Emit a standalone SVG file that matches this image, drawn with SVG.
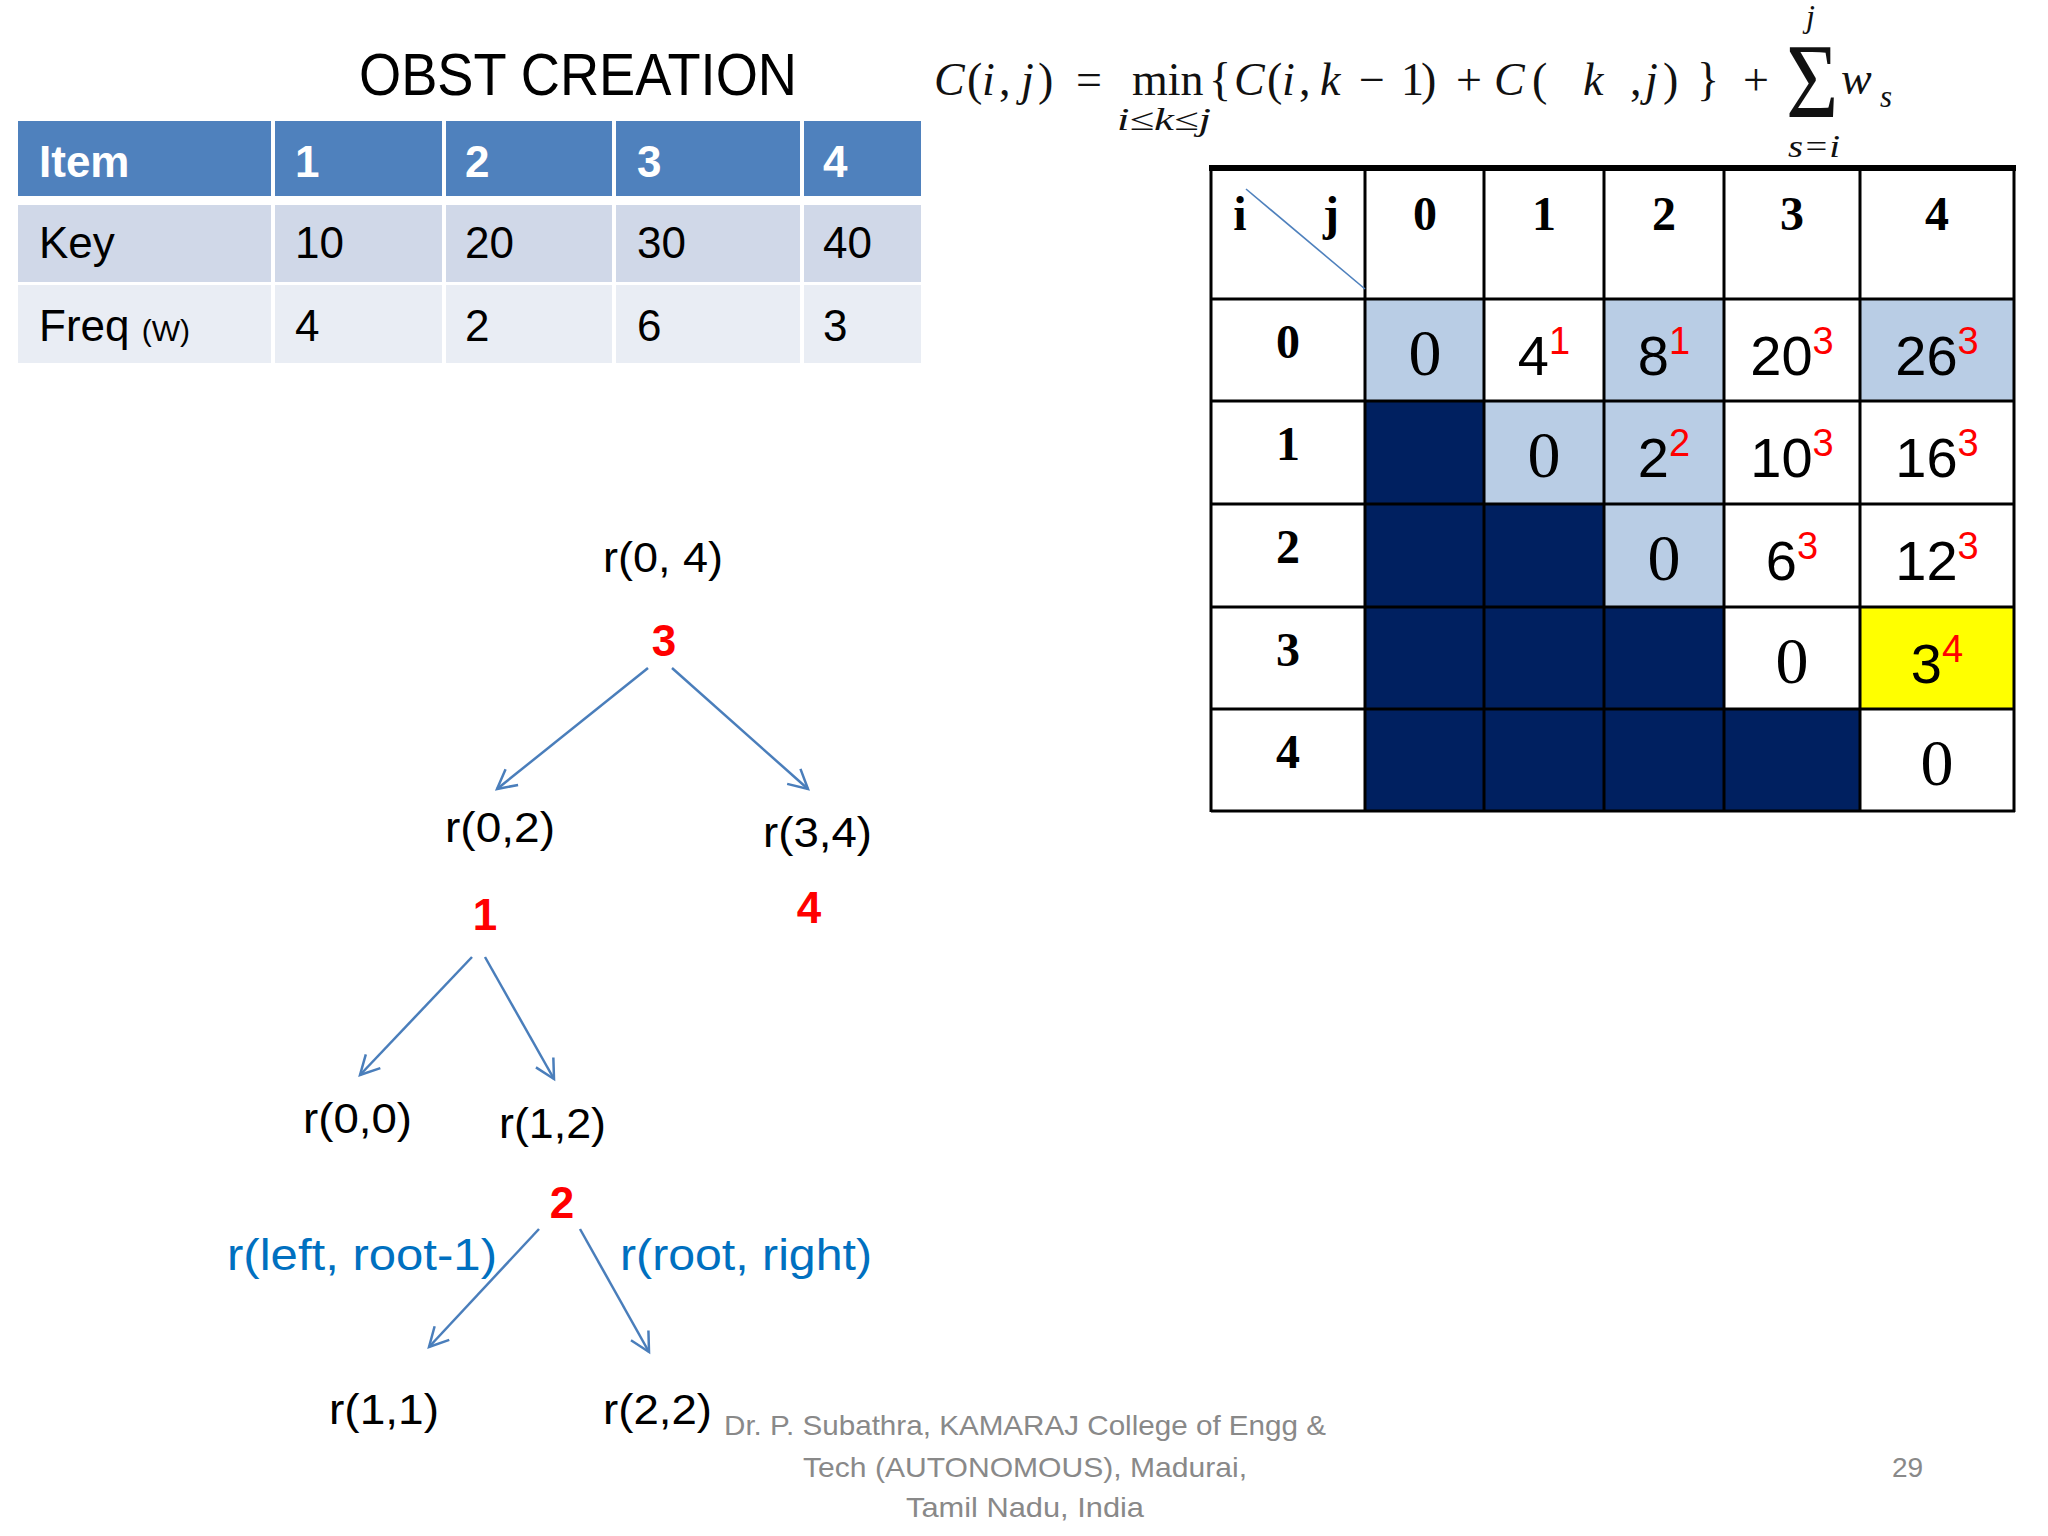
<svg xmlns="http://www.w3.org/2000/svg" width="2048" height="1536" viewBox="0 0 2048 1536">
<defs>
<style>
.sans{font-family:"Liberation Sans",Arial,sans-serif}
.t1{font-family:"Liberation Sans",Arial,sans-serif;font-size:44px;fill:#000}
.t1h{font-family:"Liberation Sans",Arial,sans-serif;font-size:44px;font-weight:bold;fill:#fff}
.hd{font-family:"Liberation Serif","Times New Roman",serif;font-size:48px;font-weight:bold;fill:#000;text-anchor:middle}
.val{font-family:"Liberation Sans",Arial,sans-serif;font-size:56px;fill:#000;text-anchor:middle}
.sup{font-size:38px;fill:#ff0000}
.zero{font-family:"Liberation Serif","Times New Roman",serif;font-size:66px;fill:#000;text-anchor:middle}
.fm{font-family:"Liberation Serif","Times New Roman",serif;fill:#111}
.big{font-size:46px}
.small{font-size:31px}
.it{font-style:italic}
.lbl{font-family:"Liberation Sans",Arial,sans-serif;font-size:42px;fill:#000}
.root{font-family:"Liberation Sans",Arial,sans-serif;font-size:44px;font-weight:bold;fill:#ff0000;text-anchor:middle}
.blue{font-family:"Liberation Sans",Arial,sans-serif;font-size:44px;fill:#0070C0}
.foot{font-family:"Liberation Sans",Arial,sans-serif;font-size:28px;fill:#898989}
.edge{stroke:#4A7EBB;stroke-width:2.5;fill:none;marker-end:url(#arr)}
.grid{stroke:#000;stroke-width:3;fill:none}
</style>
<marker id="arr" markerUnits="userSpaceOnUse" viewBox="-22 -12 26 24" markerWidth="26" markerHeight="24" refX="0" refY="0" orient="auto">
<path d="M-19,-10 L0,0 L-19,10" fill="none" stroke="#4A7EBB" stroke-width="2.5"/>
</marker>
</defs>
<rect x="0" y="0" width="2048" height="1536" fill="#ffffff"/>

<!-- Title -->
<text id="title" class="sans" x="359" y="95" font-size="60" fill="#000" textLength="438" lengthAdjust="spacingAndGlyphs">OBST CREATION</text>

<!-- Item table -->
<g id="item-table">
<g fill="#4F81BD">
<rect x="18" y="121" width="253" height="75"/>
<rect x="275" y="121" width="167" height="75"/>
<rect x="446" y="121" width="166" height="75"/>
<rect x="616" y="121" width="184" height="75"/>
<rect x="804" y="121" width="117" height="75"/>
</g>
<g fill="#D0D8E8">
<rect x="18" y="205" width="253" height="77"/>
<rect x="275" y="205" width="167" height="77"/>
<rect x="446" y="205" width="166" height="77"/>
<rect x="616" y="205" width="184" height="77"/>
<rect x="804" y="205" width="117" height="77"/>
</g>
<g fill="#E9EDF4">
<rect x="18" y="285" width="253" height="78"/>
<rect x="275" y="285" width="167" height="78"/>
<rect x="446" y="285" width="166" height="78"/>
<rect x="616" y="285" width="184" height="78"/>
<rect x="804" y="285" width="117" height="78"/>
</g>
<text class="t1h" x="39" y="177">Item</text>
<text class="t1h" x="295" y="177">1</text>
<text class="t1h" x="465" y="177">2</text>
<text class="t1h" x="637" y="177">3</text>
<text class="t1h" x="823" y="177">4</text>
<text class="t1" x="39" y="258">Key</text>
<text class="t1" x="295" y="258">10</text>
<text class="t1" x="465" y="258">20</text>
<text class="t1" x="637" y="258">30</text>
<text class="t1" x="823" y="258">40</text>
<text class="t1" x="39" y="341">Freq <tspan style="font-size:30px">(W)</tspan></text>
<text class="t1" x="295" y="341">4</text>
<text class="t1" x="465" y="341">2</text>
<text class="t1" x="637" y="341">6</text>
<text class="t1" x="823" y="341">3</text>
</g>

<!-- Formula -->
<g id="formula">
<text class="fm big" y="95"><tspan class="it" x="934">C</tspan><tspan x="967">(</tspan><tspan class="it" x="982">i</tspan><tspan x="999">,</tspan><tspan class="it" x="1021">j</tspan><tspan x="1038">)</tspan><tspan x="1076">=</tspan></text>
<text class="fm big" x="1132" y="95">min</text>
<text class="fm small it" x="1117" y="130" textLength="94" lengthAdjust="spacingAndGlyphs">i≤k≤j</text>
<text class="fm big" y="95"><tspan x="1209">{</tspan><tspan class="it" x="1234">C</tspan><tspan x="1267">(</tspan><tspan class="it" x="1282">i</tspan><tspan x="1299">,</tspan><tspan class="it" x="1320">k</tspan><tspan x="1359">−</tspan><tspan x="1401">1</tspan><tspan x="1421">)</tspan><tspan x="1456">+</tspan><tspan class="it" x="1494">C</tspan><tspan x="1532">(</tspan><tspan class="it" x="1583">k</tspan><tspan x="1630">,</tspan><tspan class="it" x="1645">j</tspan><tspan x="1663">)</tspan><tspan x="1697">}</tspan><tspan x="1743">+</tspan></text>
<text class="fm" transform="translate(1786,117) scale(1,1.18)" style="font-size:90px" x="0" y="0">Σ</text>
<text class="fm it" x="1806" y="27" style="font-size:32px">j</text>
<text class="fm small it" x="1788" y="157" textLength="52" lengthAdjust="spacingAndGlyphs">s=i</text>
<text class="fm big it" x="1841" y="94">w</text>
<text class="fm small it" x="1880" y="107">s</text>
</g>

<!-- Cost table -->
<g id="cost-table">
<g fill="#B9CDE5">
<rect x="1365" y="299" width="119" height="102"/>
<rect x="1604" y="299" width="120" height="102"/>
<rect x="1860" y="299" width="154" height="102"/>
<rect x="1484" y="401" width="120" height="103"/>
<rect x="1604" y="401" width="120" height="103"/>
<rect x="1604" y="504" width="120" height="103"/>
</g>
<g fill="#002060">
<rect x="1365" y="401" width="119" height="410"/>
<rect x="1484" y="504" width="120" height="307"/>
<rect x="1604" y="607" width="120" height="204"/>
<rect x="1724" y="709" width="136" height="102"/>
</g>
<rect x="1860" y="607" width="154" height="102" fill="#FFFF00"/>
<g class="grid">
<line x1="1211" y1="299" x2="2014" y2="299"/>
<line x1="1211" y1="401" x2="2014" y2="401"/>
<line x1="1211" y1="504" x2="2014" y2="504"/>
<line x1="1211" y1="607" x2="2014" y2="607"/>
<line x1="1211" y1="709" x2="2014" y2="709"/>
<line x1="1211" y1="811" x2="2015" y2="811"/>
<line x1="1211" y1="168" x2="1211" y2="812"/>
<line x1="1365" y1="168" x2="1365" y2="811"/>
<line x1="1484" y1="168" x2="1484" y2="811"/>
<line x1="1604" y1="168" x2="1604" y2="811"/>
<line x1="1724" y1="168" x2="1724" y2="811"/>
<line x1="1860" y1="168" x2="1860" y2="811"/>
<line x1="2014" y1="168" x2="2014" y2="812"/>
</g>
<rect x="1209" y="165" width="807" height="6" fill="#000"/>
<line x1="1246" y1="189" x2="1365" y2="289" stroke="#4F81BD" stroke-width="1.6"/>
<text class="hd" x="1240" y="230">i</text>
<text class="hd" x="1331" y="230">j</text>
<text class="hd" x="1425" y="230">0</text>
<text class="hd" x="1544" y="230">1</text>
<text class="hd" x="1664" y="230">2</text>
<text class="hd" x="1792" y="230">3</text>
<text class="hd" x="1937" y="230">4</text>
<text class="hd" x="1288" y="358">0</text>
<text class="hd" x="1288" y="460">1</text>
<text class="hd" x="1288" y="563">2</text>
<text class="hd" x="1288" y="666">3</text>
<text class="hd" x="1288" y="768">4</text>
<text class="zero" x="1425" y="375">0</text>
<text class="val" x="1544" y="375">4<tspan class="sup" dy="-21">1</tspan></text>
<text class="val" x="1664" y="375">8<tspan class="sup" dy="-21">1</tspan></text>
<text class="val" x="1792" y="375">20<tspan class="sup" dy="-21">3</tspan></text>
<text class="val" x="1937" y="375">26<tspan class="sup" dy="-21">3</tspan></text>
<text class="zero" x="1544" y="477">0</text>
<text class="val" x="1664" y="477">2<tspan class="sup" dy="-21">2</tspan></text>
<text class="val" x="1792" y="477">10<tspan class="sup" dy="-21">3</tspan></text>
<text class="val" x="1937" y="477">16<tspan class="sup" dy="-21">3</tspan></text>
<text class="zero" x="1664" y="580">0</text>
<text class="val" x="1792" y="580">6<tspan class="sup" dy="-21">3</tspan></text>
<text class="val" x="1937" y="580">12<tspan class="sup" dy="-21">3</tspan></text>
<text class="zero" x="1792" y="683">0</text>
<text class="val" x="1937" y="683">3<tspan class="sup" dy="-21">4</tspan></text>
<text class="zero" x="1937" y="785">0</text>
</g>

<!-- Tree connectors -->
<g id="connectors">
<line class="edge" x1="648" y1="668" x2="497" y2="789"/>
<line class="edge" x1="672" y1="668" x2="808" y2="789"/>
<line class="edge" x1="472" y1="957" x2="360" y2="1075"/>
<line class="edge" x1="485" y1="957" x2="554" y2="1079"/>
<line class="edge" x1="539" y1="1229" x2="429" y2="1347"/>
<line class="edge" x1="580" y1="1229" x2="649" y2="1352"/>
</g>

<!-- Tree nodes -->
<g id="node-r04">
<text class="lbl" x="603" y="572" textLength="120" lengthAdjust="spacingAndGlyphs">r(0, 4)</text>
<text class="root" x="664" y="656">3</text>
</g>
<g id="node-r02">
<text class="lbl" x="445" y="842" textLength="110" lengthAdjust="spacingAndGlyphs">r(0,2)</text>
<text class="root" x="485" y="930">1</text>
</g>
<g id="node-r34">
<text class="lbl" x="763" y="847" textLength="109" lengthAdjust="spacingAndGlyphs">r(3,4)</text>
<text class="root" x="809" y="923">4</text>
</g>
<g id="node-r00">
<text class="lbl" x="303" y="1133" textLength="109" lengthAdjust="spacingAndGlyphs">r(0,0)</text>
</g>
<g id="node-r12">
<text class="lbl" x="499" y="1138" textLength="107" lengthAdjust="spacingAndGlyphs">r(1,2)</text>
<text class="root" x="562" y="1218">2</text>
</g>
<g id="node-r11">
<text class="lbl" x="329" y="1424" textLength="110" lengthAdjust="spacingAndGlyphs">r(1,1)</text>
</g>
<g id="node-r22">
<text class="lbl" x="603" y="1424" textLength="109" lengthAdjust="spacingAndGlyphs">r(2,2)</text>
</g>
<g id="edge-labels">
<text class="blue" x="227" y="1270" textLength="270" lengthAdjust="spacingAndGlyphs">r(left, root-1)</text>
<text class="blue" x="620" y="1270" textLength="252" lengthAdjust="spacingAndGlyphs">r(root, right)</text>
</g>

<!-- Footer -->
<g id="footer">
<text class="foot" x="1025" y="1435" text-anchor="middle" textLength="602" lengthAdjust="spacingAndGlyphs">Dr. P. Subathra, KAMARAJ College of Engg &amp;</text>
<text class="foot" x="1025" y="1477" text-anchor="middle" textLength="444" lengthAdjust="spacingAndGlyphs">Tech (AUTONOMOUS), Madurai,</text>
<text class="foot" x="1025" y="1517" text-anchor="middle" textLength="238" lengthAdjust="spacingAndGlyphs">Tamil Nadu, India</text>
<text class="foot" x="1892" y="1477">29</text>
</g>
</svg>
